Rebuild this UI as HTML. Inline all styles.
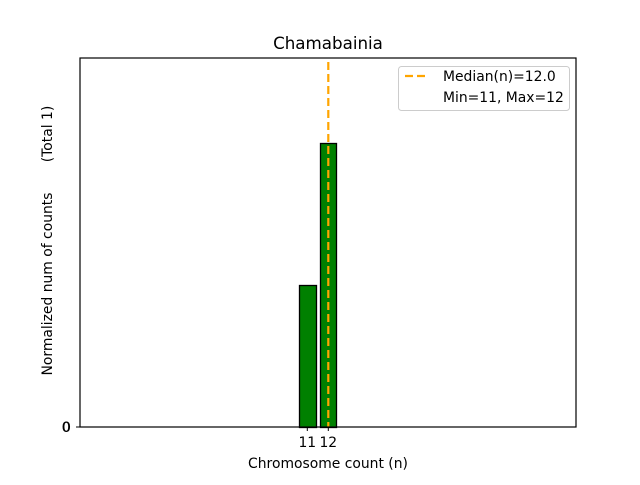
<!DOCTYPE html>
<html><head><style>body{margin:0;background:#fff}</style></head><body>
<svg width="640" height="480" xmlns="http://www.w3.org/2000/svg" font-family="DejaVu Sans, Liberation Sans, sans-serif">
<rect width="640" height="480" fill="#fff"/>
<rect x="299.5" y="285.5" width="17" height="142" fill="#008000" stroke="#000" stroke-width="1.3"/>
<rect x="320.5" y="143.5" width="16" height="284" fill="#008000" stroke="#000" stroke-width="1.3"/>
<line x1="328.3" y1="62" x2="328.3" y2="427" stroke="#ffa500" stroke-width="2.2" stroke-dasharray="8,4"/>
<rect x="80" y="58" width="496" height="369" fill="none" stroke="#000" stroke-width="1.2"/>
<line x1="76" y1="427" x2="80" y2="427" stroke="#000"/>
<text x="71" y="432" font-size="13.9" text-anchor="end">0</text>
<text x="70.5" y="432" font-size="13.9" text-anchor="end">0</text>
<line x1="307.3" y1="427" x2="307.3" y2="431" stroke="#000"/>
<line x1="328.3" y1="427" x2="328.3" y2="431" stroke="#000"/>
<text x="307.3" y="447" font-size="13.9" text-anchor="middle">11</text>
<text x="328.3" y="447" font-size="13.9" text-anchor="middle">12</text>
<text x="328" y="468" font-size="13.9" text-anchor="middle">Chromosome count (n)</text>
<text transform="translate(52,284) rotate(-90)" font-size="13.9" text-anchor="middle">Normalized num of counts</text>
<text transform="translate(52,134) rotate(-90)" font-size="13.9" text-anchor="middle">(Total 1)</text>
<text x="328" y="49" font-size="16.7" text-anchor="middle">Chamabainia</text>
<rect x="398.5" y="66.5" width="171" height="44" rx="3" fill="#fff" fill-opacity="0.8" stroke="#ccc"/>
<line x1="405" y1="76" x2="429" y2="76" stroke="#ffa500" stroke-width="2.2" stroke-dasharray="8,4"/>
<text x="443" y="81" font-size="13.9">Median(n)=12.0</text>
<text x="443" y="102" font-size="13.9">Min=11, Max=12</text>
</svg>
</body></html>
